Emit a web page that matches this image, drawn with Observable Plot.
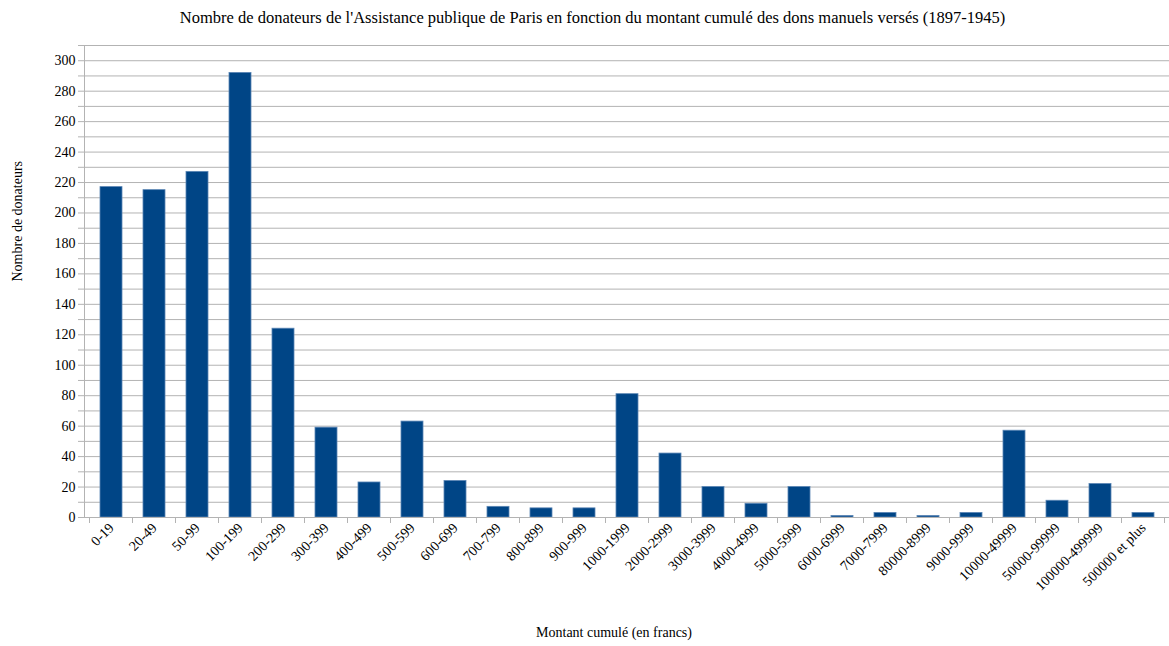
<!DOCTYPE html>
<html>
<head>
<meta charset="utf-8">
<script src="https://cdn.jsdelivr.net/npm/d3@7"></script>
<script src="https://cdn.jsdelivr.net/npm/@observablehq/plot@0.6"></script>
<style>
  body { margin: 0; background: #fff; font-family: "Liberation Serif", "DejaVu Serif", serif; }
  #title { height: 36px; line-height: 36px; text-align: center; font-size: 16.5px; color: #000; padding-left: 16px; }
</style>
</head>
<body>
<div id="title">Nombre de donateurs de l'Assistance publique de Paris en fonction du montant cumulé des dons manuels versés (1897-1945)</div>
<div id="chart"></div>
<script>
const categories = ["0-19","20-49","50-99","100-199","200-299","300-399","400-499","500-599","600-699","700-799","800-899","900-999","1000-1999","2000-2999","3000-3999","4000-4999","5000-5999","6000-6999","7000-7999","80000-8999","9000-9999","10000-49999","50000-99999","100000-499999","500000 et plus"];
const donateurs = [217,215,227,292,124,59,23,63,24,7,6,6,81,42,20,9,20,1,3,1,3,57,11,22,3];
const yTicks = d3.range(0, 311, 10);
const yTitle = "Nombre de donateurs";
const xTitle = "Montant cumulé (en francs)";
const serif = "Liberation Serif";

const data = categories.map((c, i) => ({cat: c, n: donateurs[i]}));

const boundaryTicks = (index, scales, values, dims) => {
  const x = scales.x, y = scales.y;
  const step = x(categories[1]) - x(categories[0]);
  const bw = typeof x.bandwidth === "function" ? x.bandwidth() : (x.bandwidth ?? step * 0.5);
  const off = (step - bw) / 2;
  const y0 = y(0);
  const g = d3.create("svg:g").attr("stroke", "#b3b3b3").attr("stroke-width", 1);
  const xs = categories.map(c => x(c) - off);
  xs.push(x(categories[categories.length - 1]) + bw + off);
  for (const xx of xs) {
    g.append("line").attr("x1", xx).attr("x2", xx).attr("y1", y0).attr("y2", y0 + 6);
  }
  return g.node();
};

const chart = Plot.plot({
  width: 1169,
  height: 610,
  marginLeft: 84,
  marginRight: 0,
  marginTop: 9,
  marginBottom: 129,
  style: {fontFamily: serif, fontSize: "14px", color: "#000", background: "#fff"},
  x: {domain: categories, paddingInner: 0.5, paddingOuter: 0.25, label: null},
  y: {domain: [0, 310], label: null},
  marks: [
    Plot.gridY(yTicks, {stroke: "#b3b3b3", strokeOpacity: 1}),
    Plot.barY(data, {x: "cat", y: "n", fill: "#004586", stroke: "#5b86b5", strokeWidth: 0.8}),
    Plot.ruleY([0], {stroke: "#b3b3b3"}),
    Plot.frame({anchor: "left", stroke: "#b3b3b3"}),
    Plot.axisY(yTicks, {tickSize: 6, tickPadding: 3, stroke: "#b3b3b3", strokeOpacity: 1,
      tickFormat: d => (d % 20 === 0 && d <= 300) ? String(d) : "", fontSize: 14, fontFamily: serif, label: null}),
    Plot.axisX({tickSize: 0, tickRotate: -45, tickPadding: 8, fontSize: 14, fontFamily: serif, label: null}),
    Plot.text([yTitle], {text: d => d, frameAnchor: "left", rotate: -90, dx: -67, fontSize: 14, fontFamily: serif, fill: "#000"}),
    Plot.text([xTitle], {text: d => d, frameAnchor: "bottom", dy: 119, dx: -13, fontSize: 14, fontFamily: serif, fill: "#000"}),
    boundaryTicks
  ]
});
document.getElementById("chart").appendChild(chart);
</script>
</body>
</html>
